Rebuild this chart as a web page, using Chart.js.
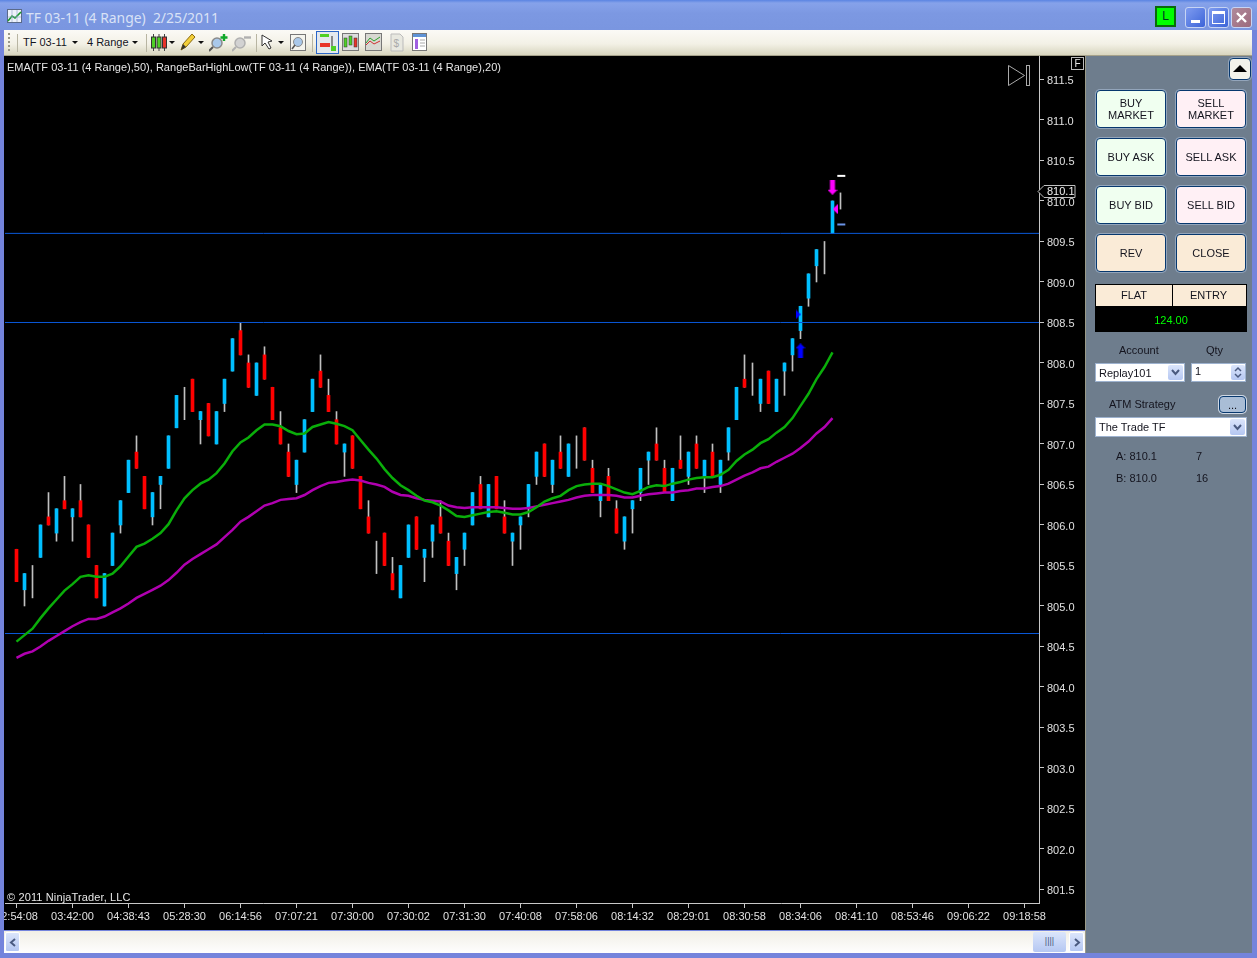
<!DOCTYPE html>
<html>
<head>
<meta charset="utf-8">
<title>TF 03-11 (4 Range)</title>
<script src="https://cdn.jsdelivr.net/npm/chart.js@4/dist/chart.umd.min.js"></script>
<style>
  html, body { margin: 0; padding: 0; background: #7a8fdf; }
  #win { position: relative; width: 1257px; height: 958px; overflow: hidden; background: #7484dc; font-family: "Liberation Sans", Arial, sans-serif; font-size: 11px; color: #14141e; }
  #win div, #win span, #win svg, #win canvas { position: absolute; }
  #titlebar { left: 0; top: 0; width: 1257px; height: 30px; background: linear-gradient(#5a84e2 0, #86a2ea 10%, #7c98e2 45%, #7a96e0 100%); }
  #title { left: 26px; top: 8px; font: 13.9px "Noto Sans", sans-serif; color: #d9e2f6; white-space: pre; }
  .winbtn { top: 7px; width: 19px; height: 19px; border: 1px solid #c6d4f4; border-radius: 3px; background: linear-gradient(135deg, #7f9cf0, #3c64d8); }
  #toolbar { left: 4px; top: 30px; width: 1248px; height: 25px; background: linear-gradient(#fbfaf6 0, #f3f1e6 55%, #d8d5bf 100%); border-bottom: 1px solid #a5a18a; }
  .tbtext { top: 6px; white-space: pre; }
  .sep { top: 4px; width: 1px; height: 18px; background: #b8b5a2; }
  .drop { top: 11px; width: 0; height: 0; border-left: 3px solid transparent; border-right: 3px solid transparent; border-top: 3px solid #111; }
  #chart { left: 4px; top: 56px; background: #000; }
  .over { color: #e6e6e6; white-space: pre; }
  #panel { left: 1085px; top: 56px; width: 167px; height: 897px; background: #6e7d8d; border-left: 1px solid #9a9a88; box-sizing: border-box; }
  .btn { width: 68px; height: 36px; border: 1px solid #07386e; border-radius: 4px; box-shadow: 0 0 0 1px #93a5bb; text-align: center; line-height: 12px; color: #14141e; }
  .buy { background: #f0fff0; } .sell { background: #fff0f5; } .neutral { background: #faebd7; }
  .lab { color: #14141e; white-space: pre; }
  .field { background: #fff; border: 1px solid #9db2cf; box-sizing: border-box; }
  .arrowbtn { background: linear-gradient(#dbe5fb, #b5c7f2); border-radius: 2px; color: #4a5a80; text-align: center; }
  #scroll { left: 4px; top: 931px; width: 1081px; height: 22px; background: linear-gradient(#f1efe6, #fefefe); }
</style>
</head>
<body>
<div id="win">
  <div id="titlebar"></div>
  <svg style="left:7px;top:9px" width="15" height="14"><rect x="0.5" y="0.5" width="14" height="13" fill="#eef2fb" stroke="#5a6a8a"/><path d="M1 12 L5 7 L8 9 L14 3" stroke="#1a9a2a" stroke-width="1.6" fill="none"/><path d="M1 8 H14 M5 1 V13 M10 1 V13" stroke="#8aa0c8" stroke-width="0.6"/></svg>
  <div id="title">TF 03-11 (4 Range)  2/25/2011</div>
  <div style="left:1155px;top:6px;width:17px;height:17px;background:#00ff00;border:2px solid #0a6a0a;text-align:center;line-height:17px;color:#032;font-size:12px">L</div>
  <div class="winbtn" style="left:1185px"><div style="left:5px;top:12px;width:9px;height:3px;background:#fff"></div></div>
  <div class="winbtn" style="left:1208px"><div style="left:3px;top:3px;border:1px solid #fff;border-top-width:3px;box-sizing:border-box;width:13px;height:13px"></div></div>
  <div class="winbtn" style="left:1231px;background:linear-gradient(135deg,#b08a9c,#9c6a7c)"><svg style="left:3px;top:3px" width="13" height="13"><path d="M2 2 L11 11 M11 2 L2 11" stroke="#fff" stroke-width="2.4"/></svg></div>

  <div id="toolbar">
    <div style="left:4px;top:3px;width:2px;height:18px;background:repeating-linear-gradient(#9a9888 0 2px,transparent 2px 4px)"></div>
    <div class="sep" style="left:13px"></div>
    <div class="tbtext" style="left:19px">TF 03-11</div><div class="drop" style="left:68px"></div>
    <div class="tbtext" style="left:83px">4 Range</div><div class="drop" style="left:128px"></div>
    <div class="sep" style="left:142px"></div>
    <svg style="left:147px;top:3px" width="16" height="19"><path d="M2.5 1 V18 M8 1 V18 M13.5 1 V18" stroke="#444"/><rect x="0.5" y="4" width="4" height="11" fill="#4fd026" stroke="#333"/><rect x="6" y="4" width="4" height="11" fill="#4fd026" stroke="#333"/><rect x="11.5" y="4" width="4" height="11" fill="#e8342a" stroke="#333"/></svg>
    <div class="drop" style="left:165px"></div>
    <svg style="left:176px;top:3px" width="16" height="18"><path d="M1 17 L3 11 L12 1 L15 4 L6 14 Z" fill="#f3cf3a" stroke="#8a6a10"/><path d="M1 17 L3 11 L6 14 Z" fill="#333"/></svg>
    <div class="drop" style="left:194px"></div>
    <svg style="left:205px;top:3px" width="20" height="19"><circle cx="8" cy="10" r="5" fill="#a9c8ea" stroke="#8a8a8a" stroke-width="1.5"/><path d="M4 14 L0 18" stroke="#555" stroke-width="2"/><path d="M15 1 V8 M11.5 4.5 H18.5" stroke="#11a82a" stroke-width="2.4"/></svg>
    <svg style="left:228px;top:3px" width="20" height="19"><circle cx="8" cy="10" r="5" fill="#d2d2d2" stroke="#b0b0b0" stroke-width="1.5"/><path d="M4 14 L0 18" stroke="#b0b0b0" stroke-width="2"/><path d="M12 4.5 H19" stroke="#b0b0b0" stroke-width="2.4"/></svg>
    <div class="sep" style="left:252px"></div>
    <svg style="left:257px;top:4px" width="15" height="16"><path d="M1 1 L1 12 L4 9 L8 15 L10 14 L7 8 L11 7 Z" fill="#fff" stroke="#333"/></svg>
    <div class="drop" style="left:274px"></div>
    <svg style="left:286px;top:3px" width="16" height="19"><rect x="0.5" y="1.5" width="15" height="16" fill="#f4f4ee" stroke="#777"/><circle cx="8" cy="9" r="4.5" fill="#a9c8ea" stroke="#8a8a8a"/><path d="M5 12 L2 16" stroke="#555" stroke-width="1.6"/></svg>
    <div class="sep" style="left:308px"></div>
    <div style="left:312px;top:1px;width:21px;height:21px;border:1px solid #2a66c8;background:#e3e8ee"></div>
    <svg style="left:315px;top:3px" width="18" height="19"><rect x="1" y="1" width="9" height="3" fill="#4fd026"/><rect x="1" y="10" width="10" height="4" fill="#e8342a"/><rect x="12" y="3" width="2" height="15" fill="#888"/><rect x="12" y="13" width="5" height="5" fill="#4fd026"/></svg>
    <svg style="left:338px;top:3px" width="18" height="19"><rect x="0.5" y="0.5" width="16" height="17" fill="#ddd" stroke="#777"/><rect x="2" y="5" width="3" height="9" fill="#4fd026" stroke="#333" stroke-width="0.5"/><rect x="7" y="3" width="3" height="9" fill="#4fd026" stroke="#333" stroke-width="0.5"/><rect x="12" y="5" width="3" height="9" fill="#e8342a" stroke="#333" stroke-width="0.5"/></svg>
    <svg style="left:361px;top:3px" width="18" height="19"><rect x="0.5" y="0.5" width="16" height="17" fill="#d8d8d2" stroke="#777"/><path d="M1 10 L5 5 L9 8 L15 4" stroke="#2aa02a" fill="none"/><path d="M1 12 L5 8 L9 11 L15 8" stroke="#d03030" fill="none"/></svg>
    <svg style="left:386px;top:3px" width="14" height="19"><path d="M1 1 H10 L13 4 V18 H1 Z" fill="#e8e8e0" stroke="#bbb"/><text x="3.5" y="14" font-size="10" fill="#aaa" font-family="Liberation Sans">$</text></svg>
    <svg style="left:408px;top:3px" width="15" height="19"><rect x="0.5" y="0.5" width="14" height="17" fill="#fff" stroke="#777"/><rect x="1" y="1" width="13" height="3" fill="#5f93d6"/><rect x="3" y="6" width="3" height="10" fill="#a060e0"/><path d="M8 7 H13 M8 10 H13 M8 13 H13" stroke="#aaa"/></svg>
  </div>

  <canvas id="chart" width="1081" height="874" style="width:1081px;height:874px"></canvas>
  <div class="over" style="left:7px;top:61px;letter-spacing:0.02px">EMA(TF 03-11 (4 Range),50), RangeBarHighLow(TF 03-11 (4 Range)), EMA(TF 03-11 (4 Range),20)</div>
  <div class="over" style="left:7px;top:891px;letter-spacing:0.13px">© 2011 NinjaTrader, LLC</div>
  <div class="over" style="left:1071px;top:57px;width:11px;height:11px;border:1px solid #bbb;text-align:center;line-height:11px;font-size:10px">F</div>
  <svg style="left:1008px;top:65px" width="22" height="22"><path d="M0.5 0.5 L0.5 20.5 L16.5 10.5 Z" fill="none" stroke="#aaa"/><rect x="18.5" y="0.5" width="3" height="20" fill="none" stroke="#aaa"/></svg>

  <div id="panel"></div>
  <div class="btn neutral" style="left:1229px;top:58px;width:20px;height:20px;background:#f2f2ea"><svg style="left:2px;top:5px" width="16" height="9"><path d="M8 1 L15 8 H1 Z" fill="#000"/></svg></div>

  <div class="btn buy" style="left:1096px;top:90px"><span style="position:static;display:block;padding-top:6px">BUY<br>MARKET</span></div>
  <div class="btn sell" style="left:1176px;top:90px"><span style="position:static;display:block;padding-top:6px">SELL<br>MARKET</span></div>
  <div class="btn buy" style="left:1096px;top:138px;line-height:36px">BUY ASK</div>
  <div class="btn sell" style="left:1176px;top:138px;line-height:36px">SELL ASK</div>
  <div class="btn buy" style="left:1096px;top:186px;line-height:36px">BUY BID</div>
  <div class="btn sell" style="left:1176px;top:186px;line-height:36px">SELL BID</div>
  <div class="btn neutral" style="left:1096px;top:234px;line-height:36px">REV</div>
  <div class="btn neutral" style="left:1176px;top:234px;line-height:36px">CLOSE</div>

  <div style="left:1095px;top:284px;width:152px;height:23px;background:#faebd7;box-sizing:border-box;border:1px solid #000;text-align:center;line-height:21px">
    <span style="left:0;width:76px;color:#14141e">FLAT</span><div style="left:76px;top:0;width:1px;height:21px;background:#000"></div><span style="left:77px;width:71px;color:#14141e">ENTRY</span>
  </div>
  <div style="left:1095px;top:307px;width:152px;height:25px;background:#000;color:#00ff00;text-align:center;line-height:26px">124.00</div>

  <div class="lab" style="left:1119px;top:344px">Account</div>
  <div class="lab" style="left:1206px;top:344px">Qty</div>
  <div class="field" style="left:1095px;top:363px;width:90px;height:19px"><span style="left:3px;top:3px">Replay101</span><div class="arrowbtn" style="left:72px;top:1px;width:15px;height:15px"><svg style="left:3px;top:4px" width="9" height="7"><path d="M1 1 L4.5 5 L8 1" stroke="#4a5a80" stroke-width="2" fill="none"/></svg></div></div>
  <div class="field" style="left:1191px;top:363px;width:55px;height:19px"><span style="left:3px;top:1px">1</span><div class="arrowbtn" style="left:39px;top:1px;width:14px;height:15px"><svg style="left:2px;top:1px" width="10" height="13"><path d="M2 5 L5 2 L8 5 M2 8 L5 11 L8 8" stroke="#4a5a80" stroke-width="1.5" fill="none"/></svg></div></div>
  <div class="lab" style="left:1109px;top:398px">ATM Strategy</div>
  <div class="btn neutral" style="left:1219px;top:396px;width:25px;height:15px;background:#a9bdd6;line-height:16px;box-shadow:0 0 0 1px #cfd8e4">...</div>
  <div class="field" style="left:1095px;top:417px;width:152px;height:20px"><span style="left:3px;top:3px">The Trade TF</span><div class="arrowbtn" style="left:134px;top:1px;width:15px;height:16px"><svg style="left:3px;top:5px" width="9" height="7"><path d="M1 1 L4.5 5 L8 1" stroke="#4a5a80" stroke-width="2" fill="none"/></svg></div></div>
  <div class="lab" style="left:1116px;top:450px">A: 810.1</div>
  <div class="lab" style="left:1196px;top:450px">7</div>
  <div class="lab" style="left:1116px;top:472px">B: 810.0</div>
  <div class="lab" style="left:1196px;top:472px">16</div>

  <div id="scroll"></div>
  <div class="arrowbtn" style="left:5px;top:932px;width:15px;height:20px;border:1px solid #fff;box-sizing:border-box"><svg style="left:3px;top:5px" width="8" height="9"><path d="M6 1 L2 4.5 L6 8" stroke="#4a5a80" stroke-width="2" fill="none"/></svg></div>
  <div class="arrowbtn" style="left:1033px;top:932px;width:33px;height:20px;line-height:19px;font-size:9px">||||</div>
  <div class="arrowbtn" style="left:1069px;top:932px;width:15px;height:20px;border:1px solid #fff;box-sizing:border-box"><svg style="left:3px;top:5px" width="8" height="9"><path d="M2 1 L6 4.5 L2 8" stroke="#4a5a80" stroke-width="2" fill="none"/></svg></div>
</div>

<script>
"use strict"

// Range bars, one entry per bar
const opens = [805.7,805.2,805.3,805.6,806.1,805.9,806.3,806.1,806.3,806.0,
  805.5,805.0,805.5,806.0,806.4,806.9,806.6,806.1,806.5,806.7,
  807.2,807.5,807.8,807.3,807.5,807.0,807.5,807.9,808.4,808.0,
  807.6,808.1,807.7,807.2,806.9,806.5,806.9,807.4,807.9,807.6,
  807.3,806.9,807.1,806.6,806.1,805.6,805.9,805.4,805.1,805.6,
  806.1,805.6,805.8,806.1,805.8,805.4,805.7,806.0,806.5,806.1,
  806.6,806.1,805.8,806.0,806.2,806.6,807.0,806.5,806.9,806.6,
  806.9,807.2,806.7,806.3,806.6,806.2,805.8,806.2,806.4,806.8,
  807.0,806.7,806.3,806.8,806.6,807.0,806.6,806.9,806.5,806.9,
  807.3,807.8,807.8,807.5,807.9,807.4,807.9,808.1,808.4,808.8,
  809.2,809.3,809.6,810.0];
const closes = [805.3,805.4,805.3,806.0,806.0,806.2,806.2,806.2,806.1,805.6,
  805.1,805.4,805.9,806.3,806.8,806.7,806.2,806.4,806.6,807.1,
  807.6,807.5,807.4,807.4,807.1,807.4,807.8,808.3,808.1,807.7,
  808.0,807.8,807.3,807.0,806.6,806.8,807.3,807.8,807.7,807.4,
  807.0,807.0,806.7,806.2,805.9,805.6,805.5,805.2,805.5,806.0,
  805.7,805.7,806.0,805.9,805.5,805.6,805.9,806.4,806.2,806.5,
  806.2,805.9,805.9,806.1,806.5,806.9,806.6,806.8,806.7,807.0,
  806.9,806.8,806.4,806.5,806.3,805.9,806.1,806.3,806.7,806.9,
  806.8,806.4,806.7,806.7,806.9,806.7,806.8,806.6,806.8,807.2,
  807.7,807.7,807.8,807.8,807.5,807.8,808.0,808.3,808.7,809.1,
  809.4,809.3,810.0,810.0];
const highs = [805.7,805.4,805.5,806.0,806.4,806.2,806.6,806.2,806.5,806.0,
  805.5,805.4,805.9,806.3,806.8,807.1,806.6,806.4,806.6,807.1,
  807.6,807.7,807.8,807.4,807.5,807.4,807.8,808.3,808.5,808.1,
  808.0,808.2,807.7,807.4,807.0,806.8,807.3,807.8,808.1,807.8,
  807.4,807.0,807.1,806.6,806.3,805.8,805.9,805.6,805.5,806.0,
  806.1,805.7,806.0,806.3,805.9,805.6,805.9,806.4,806.6,806.5,
  806.6,806.3,805.9,806.1,806.5,806.9,807.0,806.8,807.1,807.0,
  807.1,807.2,806.8,806.5,806.7,806.3,806.1,806.3,806.7,806.9,
  807.2,806.8,806.7,807.1,806.9,807.1,806.8,807.0,806.8,807.2,
  807.7,808.1,808.0,807.8,807.9,807.8,808.0,808.3,808.7,809.1,
  809.4,809.5,810.0,810.1];
const lows = [805.3,805.0,805.1,805.6,806.0,805.8,806.2,805.8,806.1,805.6,
  805.1,805.0,805.5,805.9,806.4,806.7,806.2,806.0,806.2,806.7,
  807.2,807.3,807.4,807.0,807.1,807.0,807.4,807.9,808.1,807.7,
  807.6,807.8,807.3,807.0,806.6,806.4,806.9,807.4,807.7,807.4,
  807.0,806.6,806.7,806.2,805.9,805.4,805.5,805.2,805.1,805.6,
  805.7,805.3,805.6,805.9,805.5,805.2,805.5,806.0,806.2,806.1,
  806.2,805.9,805.5,805.7,806.1,806.5,806.6,806.4,806.7,806.6,
  806.7,806.8,806.4,806.1,806.3,805.9,805.7,805.9,806.3,806.5,
  806.8,806.4,806.3,806.7,806.5,806.7,806.4,806.6,806.4,806.8,
  807.3,807.7,807.6,807.4,807.5,807.4,807.6,807.9,808.3,808.7,
  809.0,809.1,809.6,809.9];

const ema20 = [804.56,804.64,804.72,804.85,804.97,805.08,805.19,805.27,805.36,805.38,
  805.36,805.36,805.40,805.49,805.61,805.73,805.77,805.83,805.90,806.01,
  806.18,806.33,806.43,806.51,806.56,806.64,806.76,806.91,807.02,807.08,
  807.17,807.24,807.24,807.22,807.16,807.12,807.13,807.21,807.24,807.27,
  807.25,807.22,807.17,807.05,806.93,806.82,806.69,806.58,806.49,806.43,
  806.36,806.30,806.28,806.24,806.18,806.11,806.10,806.12,806.14,806.16,
  806.17,806.15,806.13,806.13,806.16,806.22,806.29,806.33,806.36,806.43,
  806.48,806.50,806.51,806.51,806.48,806.44,806.40,806.38,806.42,806.47,
  806.49,806.48,806.51,806.53,806.56,806.58,806.59,806.59,806.62,806.68,
  806.79,806.87,806.93,807.01,807.06,807.14,807.21,807.32,807.47,807.62,
  807.80,807.95,808.13];
const ema50 = [804.36,804.41,804.44,804.50,804.57,804.63,804.69,804.75,804.80,804.84,
  804.84,804.87,804.92,804.97,805.03,805.10,805.15,805.20,805.25,805.32,
  805.41,805.51,805.58,805.64,805.70,805.76,805.85,805.94,806.04,806.10,
  806.17,806.24,806.27,806.31,806.32,806.33,806.37,806.43,806.48,806.52,
  806.53,806.55,806.56,806.55,806.52,806.50,806.47,806.41,806.37,806.36,
  806.33,806.31,806.30,806.29,806.24,806.22,806.21,806.22,806.22,806.22,
  806.22,806.21,806.20,806.20,806.21,806.23,806.25,806.27,806.29,806.31,
  806.34,806.36,806.37,806.37,806.37,806.36,806.34,806.34,806.36,806.38,
  806.39,806.40,806.40,806.42,806.43,806.45,806.45,806.47,806.48,806.51,
  806.56,806.61,806.65,806.70,806.72,806.78,806.83,806.88,806.95,807.03,
  807.13,807.21,807.32];

const xTickLabels = ["02:54:08","03:42:00","04:38:43","05:28:30","06:14:56","07:07:21","07:30:00",
  "07:30:02","07:31:30","07:40:08","07:58:06","08:14:32","08:29:01","08:30:58","08:34:06",
  "08:41:10","08:53:46","09:06:22","09:18:58"];
const xTickBars = [0,7,14,21,28,35,42,49,56,63,70,77,84,91,98,105,112,119,126];
const yTicks = [801.5,802.0,802.5,803.0,803.5,804.0,804.5,805.0,805.5,806.0,806.5,
  807.0,807.5,808.0,808.5,809.0,809.5,810.0,810.5,811.0,811.5];

const levels = [809.6, 808.5, 804.66];
const rangeHigh = 810.31, rangeLow = 809.71;
const lastPrice = "810.1";
const buyArrow = {x: 98, y: 808.15}, sellArrow = {x: 102, y: 810.17};
const entryMark = {x: 97.69, y: 808.60}, exitMark = {x: 102.34, y: 809.90};

const xMin = -1.4375, xMax = 127.8125, yMin = 801.333, yMax = 811.790;

const bars = opens.map((o, i) => i);
const isUp = i => closes[i] > opens[i];

// Little canvases used as point styles for the trade markers
function arrowIcon(color, down) {
  const c = document.createElement('canvas');
  c.width = 10; c.height = 15;
  const g = c.getContext('2d');
  g.fillStyle = color;
  if (down) { g.translate(0, 15); g.scale(1, -1); }
  g.beginPath();
  g.moveTo(5, 0); g.lineTo(10, 5); g.lineTo(7.5, 5); g.lineTo(7.5, 15);
  g.lineTo(2.5, 15); g.lineTo(2.5, 5); g.lineTo(0, 5);
  g.closePath(); g.fill();
  return c;
}
function triIcon(color, left) {
  const c = document.createElement('canvas');
  c.width = 5; c.height = 10;
  const g = c.getContext('2d');
  g.fillStyle = color;
  g.beginPath();
  if (left) { g.moveTo(5, 0); g.lineTo(0, 5); g.lineTo(5, 10); }
  else { g.moveTo(0, 0); g.lineTo(5, 5); g.lineTo(0, 10); }
  g.closePath(); g.fill();
  return c;
}
const marker = (pt, icon) => ({type: 'scatter', data: [pt], pointStyle: icon, pointRadius: 6, order: 0});
const level = v => ({type: 'line', data: [{x: xMin, y: v}, {x: xMax, y: v}], borderColor: '#0a58d8', borderWidth: 1, pointRadius: 0, order: 2});
const dash = (v, color) => ({type: 'line', data: [{x: 102.6, y: v}, {x: 103.6, y: v}], borderColor: color, borderWidth: 2, pointRadius: 0, order: 1});

// Price flag sitting on the axis
const priceFlag = {
  id: 'priceFlag',
  afterDraw(chart) {
    const ctx = chart.ctx, yS = chart.scales.y, right = chart.chartArea.right;
    const y = Math.round(yS.getPixelForValue(parseFloat(lastPrice))) - 1.5;
    ctx.save();
    ctx.beginPath();
    ctx.moveTo(right - 1, y);
    ctx.lineTo(right + 5, y - 6);
    ctx.lineTo(right + 36, y - 6);
    ctx.lineTo(right + 36, y + 6);
    ctx.lineTo(right + 5, y + 6);
    ctx.closePath();
    ctx.fillStyle = '#000';
    ctx.fill();
    ctx.strokeStyle = '#c0c0c0';
    ctx.stroke();
    ctx.fillStyle = '#f0f0f0';
    ctx.font = '11px "Liberation Sans"';
    ctx.textBaseline = 'middle';
    ctx.fillText(lastPrice, right + 8, y + 0.5);
    ctx.restore();
  }
};

new Chart(document.getElementById('chart'), {
  data: {
    datasets: [
      {type: 'bar', data: bars.map(i => ({x: i, y: [lows[i], highs[i]]})), backgroundColor: '#c0c0c0', barThickness: 1, grouped: false, order: 5},
      {type: 'bar', data: bars.filter(i => opens[i] != closes[i]).map(i => ({x: i, y: [opens[i], closes[i]]})),
        backgroundColor: bars.filter(i => opens[i] != closes[i]).map(i => isUp(i) ? '#00bfff' : '#ff0000'), barThickness: 3, grouped: false, order: 4},
      ...levels.map(level),
      dash(rangeHigh, '#ffffff'),
      dash(rangeLow, '#6a93e6'),
      {type: 'line', data: ema20.map((v, i) => ({x: i, y: v})), borderColor: '#0aae0a', borderWidth: 2.5, pointRadius: 0, order: 1},
      {type: 'line', data: ema50.map((v, i) => ({x: i, y: v})), borderColor: '#b000b0', borderWidth: 2.5, pointRadius: 0, order: 1},
      marker(buyArrow, arrowIcon('#0000ff', false)),
      marker(sellArrow, arrowIcon('#ff00ff', true)),
      marker(entryMark, triIcon('#0000ff', false)),
      marker(exitMark, triIcon('#ff00ff', true))
    ]
  },
  plugins: [priceFlag],
  options: {
    responsive: false,
    devicePixelRatio: 1,
    animation: false,
    events: [],
    layout: {autoPadding: false, padding: {left: 1, top: 0, right: 0, bottom: 0}},
    plugins: {legend: {display: false}, tooltip: {enabled: false}, title: {display: false}},
    scales: {
      x: {
        type: 'linear', position: 'bottom', min: xMin, max: xMax, offset: false,
        afterBuildTicks: s => { s.ticks = xTickBars.map(v => ({value: v})); },
        afterFit: s => { s.height = 27; s.paddingLeft = 0; s.paddingRight = 0; },
        ticks: {callback: (v, i) => xTickLabels[i], autoSkip: false, maxRotation: 0, minRotation: 0, padding: 2, color: '#e0e0e0', font: {family: '"Liberation Sans"', size: 11}},
        grid: {offset: false, drawOnChartArea: false, drawTicks: true, tickLength: 5, color: '#c8c8c8'},
        border: {color: '#c8c8c8'}
      },
      y: {
        type: 'linear', position: 'right', min: yMin, max: yMax,
        afterBuildTicks: s => { s.ticks = yTicks.map(v => ({value: v})); },
        afterFit: s => { s.width = 46; s.paddingTop = 0; s.paddingBottom = 0; },
        ticks: {callback: v => v.toFixed(1), autoSkip: false, padding: 3, labelOffset: 1.5, color: '#e0e0e0', font: {family: '"Liberation Sans"', size: 11}},
        grid: {drawOnChartArea: false, drawTicks: true, tickLength: 5, color: '#c8c8c8'},
        border: {color: '#c8c8c8'}
      }
    }
  }
});
</script>
</body>
</html>
